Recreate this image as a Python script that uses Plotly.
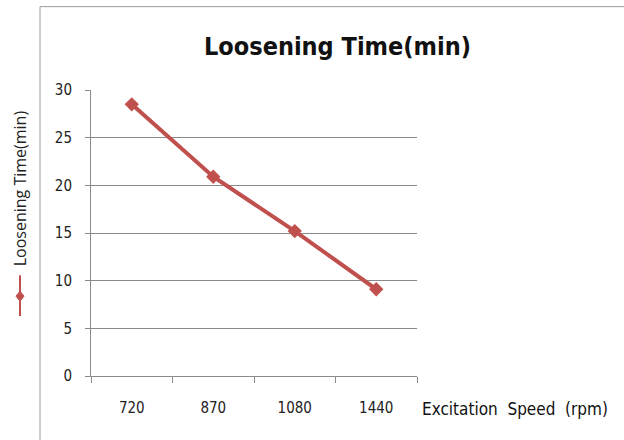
import plotly.graph_objects as go

categories = ["720", "870", "1080", "1440"]
loosening_time = [28.5, 20.9, 15.2, 9.1]
y_ticks = [0, 5, 10, 15, 20, 25, 30]

RED = "#C0504D"
GRID = "#8a8a8a"
COND = "DejaVu Sans Condensed, Liberation Sans"

# plot area in pixels
L, R, T, B = 91, 417, 89.5, 376
W, H = 624, 440

def px(x):
    return (x - L) / (R - L)

def py(y):
    return (B - y) / (B - T)

fig = go.Figure()
fig.add_trace(go.Scatter(
    x=categories, y=loosening_time, mode="lines+markers",
    line=dict(color=RED, width=4),
    marker=dict(symbol="diamond", size=11, color=RED),
    showlegend=False,
))

fig.update_layout(
    width=W, height=H,
    margin=dict(l=L, r=W - R, t=T, b=H - B, autoexpand=False),
    paper_bgcolor="white", plot_bgcolor="white",
    xaxis=dict(
        type="category", range=[-0.5, 3.5],
        showgrid=False, showline=True, linecolor=GRID, linewidth=1,
        ticks="outside", tickson="boundaries", ticklen=6, tickcolor=GRID,
        tickfont=dict(family=COND, size=15, color="#222"),
        ticklabelstandoff=18,
    ),
    yaxis=dict(
        range=[0, 30], tickvals=y_ticks,
        showgrid=True, gridcolor=GRID, gridwidth=1,
        showline=True, linecolor=GRID, linewidth=1,
        ticks="outside", ticklen=5, tickcolor=GRID,
        tickfont=dict(family=COND, size=15, color="#222"),
        ticklabelstandoff=10, zeroline=False,
    ),
    font=dict(family="Liberation Sans"),
)

annotations = [
    dict(text="<b>Loosening Time(min)</b>", x=px(337), y=py(46), xref="paper", yref="paper",
         showarrow=False, xanchor="center", yanchor="middle",
         font=dict(family=COND, size=25, color="#111")),
    dict(text="Excitation  Speed  (rpm)", x=px(420), y=py(409), xref="paper", yref="paper",
         showarrow=False, xanchor="left", yanchor="middle",
         font=dict(family=COND, size=17, color="#111")),
    dict(text="Loosening Time(min)", x=px(20), y=py(188), xref="paper", yref="paper",
         showarrow=False, textangle=-90, xanchor="center", yanchor="middle",
         font=dict(family="Open Sans, Liberation Sans", size=16, color="#222")),
]
fig.update_layout(annotations=annotations)

shapes = [
    # outer frame
    dict(type="line", xref="paper", yref="paper", x0=px(40), x1=px(W + 5), y0=py(6), y1=py(6),
         line=dict(color="#9a9a9a", width=1)),
    dict(type="line", xref="paper", yref="paper", x0=px(40), x1=px(40), y0=py(6), y1=py(H + 5),
         line=dict(color="#9a9a9a", width=1)),
    # legend key (line with diamond)
    dict(type="line", xref="paper", yref="paper", x0=px(20), x1=px(20), y0=py(275), y1=py(316),
         line=dict(color=RED, width=2)),
    dict(type="path", xref="paper", yref="paper",
         path=f"M {px(20)} {py(291)} L {px(24)} {py(296)} L {px(20)} {py(301)} L {px(16)} {py(296)} Z",
         fillcolor=RED, line=dict(color=RED, width=1)),
]
fig.update_layout(shapes=shapes)

fig.write_html("out.html")
